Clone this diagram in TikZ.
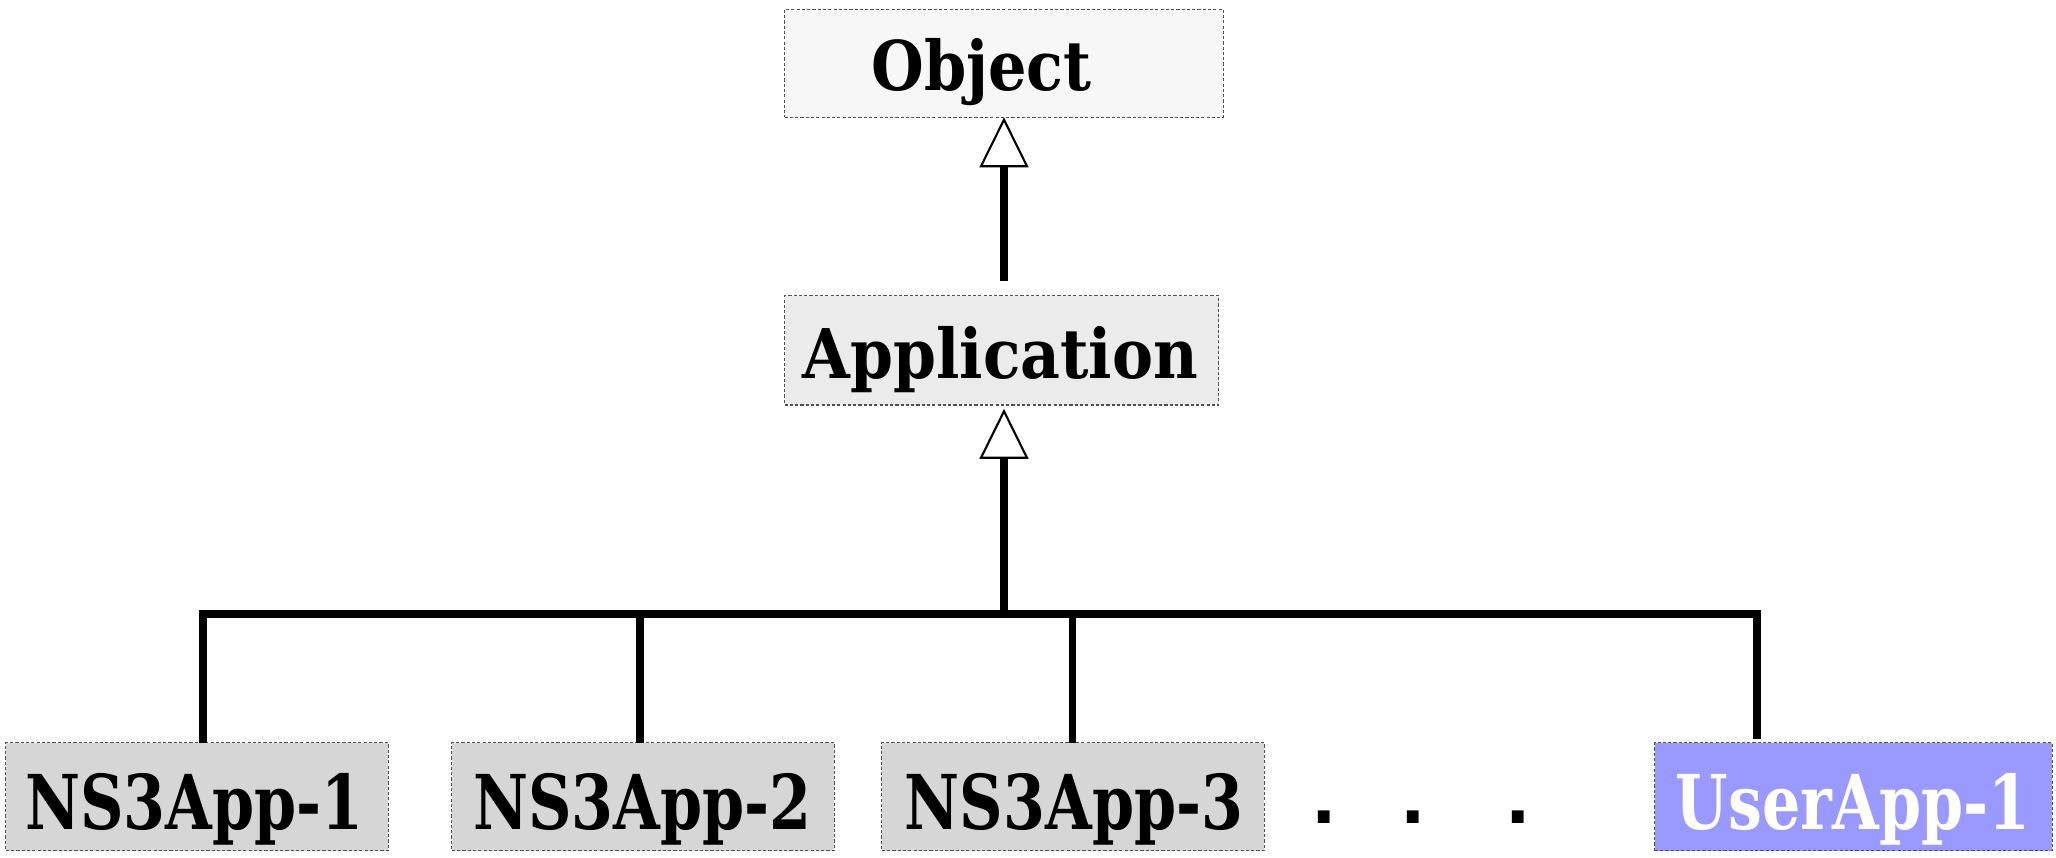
\documentclass[tikz,border=0pt]{standalone}
\usepackage{fontspec}
\setmainfont{DejaVu Serif}
\newfontfamily\dotfont{DejaVu Sans}
\usetikzlibrary{arrows.meta,calc}

\definecolor{objfill}{HTML}{F7F7F7}
\definecolor{appfill}{HTML}{EBEBEB}
\definecolor{nsfill}{HTML}{D6D6D6}
\definecolor{userfill}{HTML}{9999FF}
\definecolor{edge}{HTML}{505050}

% bold label squeezed horizontally to a given width (pt)
\newsavebox\lblbox
\newlength\lblw
\newcommand\fitlabel[3]{%
  \sbox\lblbox{\fontsize{#2}{#2}\selectfont\bfseries #3}%
  \setlength\lblw{\wd\lblbox}%
  \pgfmathsetmacro\lblratio{#1/\lblw}%
  \scalebox{\lblratio}[1]{\usebox\lblbox}}

\tikzset{
  classbox/.style={draw=edge, line width=0.3pt, dash pattern=on 0.9pt off 0.6pt,
    inner sep=0pt, outer sep=0pt, minimum height=1.08cm},
  lbl/.style={anchor=base, inner sep=0pt, outer sep=0pt},
  conn/.style={line width=2pt, black},
  inherit/.style={conn, -{Triangle[open, width=13.9pt, length=14.2pt, line width=0.6pt]}},
}

\begin{document}
\begin{tikzpicture}[x=0.01cm, y=-0.01cm]
\useasboundingbox (0,0) rectangle (2056,858);

% class boxes
\node[classbox, fill=objfill, minimum width=4.386cm] (obj) at (1004,63.3) {};
\node[classbox, fill=appfill, minimum width=4.34cm, minimum height=1.09cm] (app) at (1001.7,350.5) {};
\node[classbox, fill=nsfill, minimum width=3.82cm] (n1) at (197,796.7) {};
\node[classbox, fill=nsfill, minimum width=3.82cm] (n2) at (643,796.7) {};
\node[classbox, fill=nsfill, minimum width=3.82cm] (n3) at (1073,796.7) {};
\node[classbox, fill=userfill, minimum width=3.97cm] (u1) at (1853.5,796.7) {};

% class names
\node[lbl] (tobj) at (981.7,90.7) {\fitlabel{62.6}{19.5pt}{Object}};
\node[lbl] (tapp) at (1000.3,378.3) {\fitlabel{112.5}{19.5pt}{Application}};
\node[lbl] (tn1) at (194.5,830) {\fitlabel{96.2}{21.5pt}{NS3App-1}};
\node[lbl] (tn2) at (642.5,830) {\fitlabel{96.2}{21.5pt}{NS3App-2}};
\node[lbl] (tn3) at (1074,830) {\fitlabel{96.2}{21.5pt}{NS3App-3}};
\node[lbl, text=white] (tu1) at (1853,830) {\fitlabel{100.7}{21.5pt}{UserApp-1}};

% ellipsis between the derived classes
\node[lbl] (d1) at (1324,824) {\dotfont\fontsize{19pt}{19pt}\selectfont\bfseries .};
\node[lbl] (d2) at (1413,824) {\dotfont\fontsize{19pt}{19pt}\selectfont\bfseries .};
\node[lbl] (d3) at (1518,824) {\dotfont\fontsize{19pt}{19pt}\selectfont\bfseries .};

% inheritance connectors
\coordinate (a1) at (1004,280.7);
\coordinate (hub) at (1004,614);
\coordinate (c1) at (203,614);
\coordinate (c2) at (640,614);
\coordinate (c3) at (1072.5,614);
\coordinate (c4) at (1757,614);

\draw[inherit] (a1) -- (obj.south -| a1);
\draw[inherit, shorten >=1.1pt] (hub) -- (app.south -| hub);
\draw[conn] (n1.north -| c1) -- (c1) -- (c4) -- ($(u1.north -| c4)+(0,-4)$);
\draw[conn] (c2) -- (n2.north -| c2);
\draw[conn] (c3) -- (n3.north -| c3);
\end{tikzpicture}
\end{document}
